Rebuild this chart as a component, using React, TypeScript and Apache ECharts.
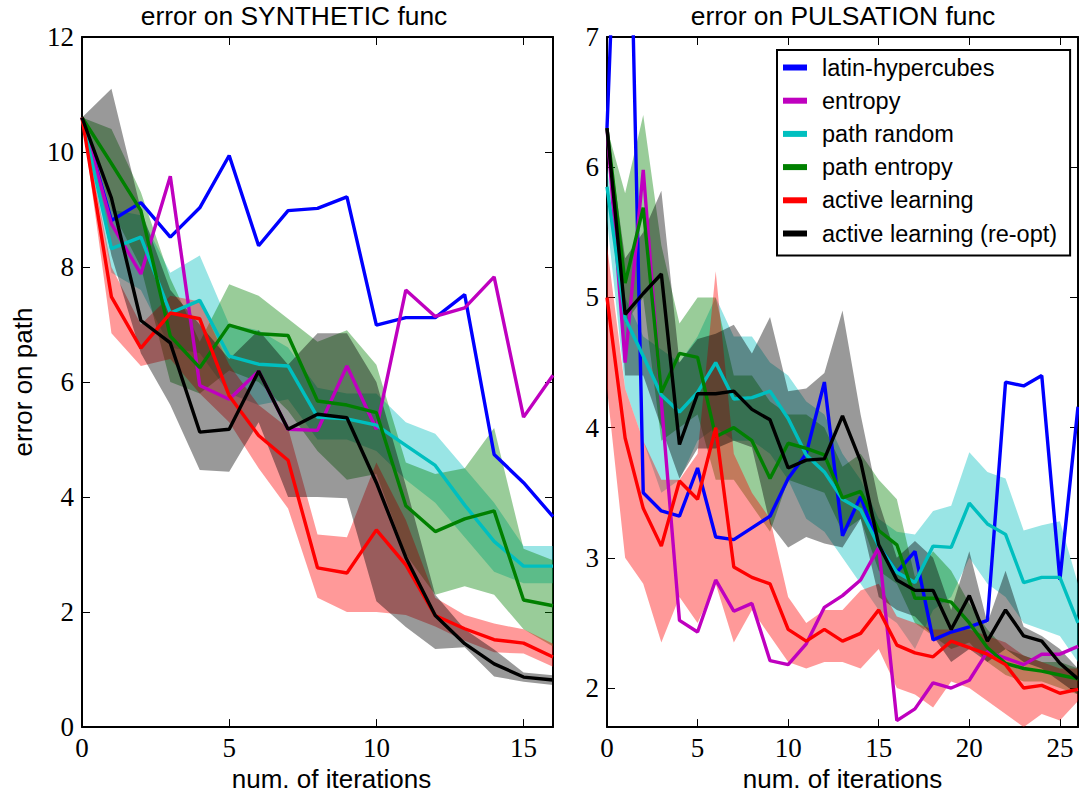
import React, { useEffect, useRef } from "react";
import * as echarts from "echarts";

// ---------- data: SYNTHETIC func (left) ----------
const ITER_SYN = [0, 1, 2, 3, 4, 5, 6, 7, 8, 9, 10, 11, 12, 13, 14, 15, 16];
const synLatin = [10.6, 8.81, 9.12, 8.52, 9.03, 9.94, 8.37, 8.98, 9.02, 9.22, 6.99, 7.12, 7.12, 7.52, 4.74, 4.25, 3.66];
const synEntropy = [10.6, 8.75, 7.88, 9.58, 5.94, 5.7, 6.19, 5.18, 5.16, 6.28, 5.18, 7.6, 7.14, 7.29, 7.83, 5.39, 6.12];
const synPathRandom = [10.6, 8.32, 8.52, 7.2, 7.42, 6.45, 6.31, 6.28, 5.39, 5.36, 5.25, 4.9, 4.55, 3.86, 3.23, 2.8, 2.8];
const synPathEntropy = [10.6, 9.8, 8.98, 6.8, 6.25, 6.99, 6.84, 6.81, 5.67, 5.6, 5.47, 3.85, 3.4, 3.62, 3.76, 2.21, 2.11];
const synActive = [10.6, 7.48, 6.59, 7.2, 7.1, 5.76, 5.07, 4.64, 2.77, 2.68, 3.43, 2.82, 1.94, 1.71, 1.52, 1.46, 1.22];
const synReopt = [10.6, 9.2, 7.07, 6.68, 5.13, 5.18, 6.19, 5.18, 5.44, 5.38, 4.25, 2.95, 1.94, 1.45, 1.1, 0.87, 0.82];

const synPathRandomLo = [10.6, 7.9, 7.6, 6.6, 6.5, 5.8, 5.6, 5.7, 5.0, 5.0, 4.8, 4.3, 3.9, 3.3, 2.7, 2.5, 2.5];
const synPathRandomHi = [10.6, 9.0, 8.9, 7.9, 8.2, 7.0, 6.9, 6.6, 5.9, 5.8, 5.8, 5.3, 5.1, 4.5, 3.9, 3.15, 3.15];
const synPathEntropyLo = [10.6, 9.0, 8.0, 6.0, 5.8, 6.2, 6.0, 5.5, 4.8, 4.3, 4.4, 3.0, 2.3, 2.45, 2.3, 1.7, 1.4];
const synPathEntropyHi = [10.6, 10.4, 9.3, 7.8, 6.7, 7.7, 7.5, 7.1, 6.7, 6.9, 6.3, 4.6, 4.4, 4.5, 5.2, 3.1, 2.9];
const synActiveLo = [10.6, 6.85, 6.28, 6.4, 5.8, 5.3, 4.5, 3.8, 2.25, 2.0, 2.0, 1.95, 1.75, 1.5, 1.3, 1.28, 1.05];
const synActiveHi = [10.6, 8.0, 7.0, 7.5, 7.4, 6.3, 5.6, 5.2, 3.35, 3.3, 4.6, 3.6, 2.25, 1.95, 1.8, 1.7, 1.45];
const synReoptLo = [10.6, 8.2, 6.5, 5.6, 4.47, 4.44, 5.3, 4.0, 4.0, 3.98, 2.19, 1.74, 1.36, 1.39, 0.88, 0.79, 0.73];
const synReoptHi = [10.6, 11.1, 9.0, 7.6, 7.0, 6.4, 6.9, 6.3, 6.85, 6.85, 6.0, 4.2, 2.3, 1.7, 1.35, 0.95, 0.9];

// ---------- data: PULSATION func (right) ----------
const ITER_PUL = [0, 1, 2, 3, 4, 5, 6, 7, 8, 9, 10, 11, 12, 13, 14, 15, 16, 17, 18, 19, 20, 21, 22, 23, 24, 25, 26];
const pulLatin = [6.3, 9.9, 3.5, 3.36, 3.32, 3.69, 3.16, 3.14, 3.23, 3.32, 3.61, 3.8, 4.35, 3.17, 3.47, 3.09, 2.89, 3.05, 2.37, 2.43, 2.47, 2.52, 4.35, 4.32, 4.4, 2.83, 4.16];
const pulEntropy = [6.3, 4.5, 5.98, 4.2, 2.52, 2.43, 2.83, 2.59, 2.65, 2.21, 2.18, 2.34, 2.62, 2.71, 2.83, 3.08, 1.75, 1.84, 2.04, 2.0, 2.06, 2.28, 2.23, 2.18, 2.26, 2.26, 2.32];
const pulPathRandom = [5.85, 4.84, 4.55, 4.25, 4.12, 4.27, 4.5, 4.22, 4.23, 4.28, 4.07, 3.79, 3.66, 3.45, 3.37, 3.09, 2.89, 2.81, 3.09, 3.08, 3.42, 3.26, 3.18, 2.81, 2.85, 2.85, 2.5];
const pulPathEntropy = [6.3, 5.11, 5.69, 4.27, 4.57, 4.54, 3.93, 4.0, 3.9, 3.61, 3.88, 3.84, 3.79, 3.46, 3.51, 3.21, 3.1, 2.69, 2.69, 2.66, 2.5, 2.31, 2.19, 2.15, 2.13, 2.1, 2.07];
const pulActive = [5.0, 3.92, 3.38, 3.09, 3.59, 3.45, 4.0, 2.93, 2.85, 2.8, 2.45, 2.36, 2.45, 2.36, 2.42, 2.6, 2.33, 2.27, 2.24, 2.36, 2.31, 2.26, 2.18, 2.0, 2.02, 1.96, 1.99];
const pulReopt = [6.3, 4.87, 5.03, 5.18, 3.87, 4.26, 4.26, 4.28, 4.14, 4.06, 3.69, 3.75, 3.76, 4.09, 3.74, 3.1, 2.83, 2.75, 2.75, 2.45, 2.71, 2.36, 2.6, 2.4, 2.36, 2.19, 2.07];

const pulPathRandomLo = [5.6, 4.3, 3.9, 3.5, 3.6, 3.9, 4.0, 3.9, 3.9, 3.8, 3.6, 3.3, 3.2, 3.0, 2.8, 2.6, 2.5, 2.3, 2.6, 2.7, 3.0, 2.8, 2.7, 2.5, 2.45, 2.4, 2.2];
const pulPathRandomHi = [6.0, 5.0, 4.7, 4.6, 4.5, 4.7, 5.0, 4.7, 4.7, 4.5, 4.4, 4.2, 4.1, 3.8, 3.6, 3.3, 3.2, 3.18, 3.36, 3.4, 3.81, 3.66, 3.61, 3.21, 3.25, 3.28, 2.8];
const pulPathEntropyLo = [6.3, 4.8, 5.0, 3.9, 4.0, 4.1, 3.6, 3.6, 3.4, 3.2, 3.6, 3.55, 3.5, 3.2, 3.3, 2.9, 2.8, 2.5, 2.4, 2.3, 2.35, 2.2, 2.1, 2.05, 2.05, 2.0, 1.95];
const pulPathEntropyHi = [6.3, 5.8, 6.4, 5.4, 4.8, 5.0, 5.0, 4.4, 4.4, 4.2, 4.1, 4.1, 4.0, 3.7, 3.8, 3.6, 3.45, 2.85, 3.05, 2.9, 2.65, 2.45, 2.3, 2.25, 2.2, 2.2, 2.15];
const pulActiveLo = [4.3, 3.0, 2.8, 2.35, 2.7, 2.5, 2.8, 2.35, 2.6, 2.4, 2.2, 2.15, 2.2, 2.2, 2.15, 2.3, 2.0, 1.95, 1.85, 2.05, 2.0, 1.9, 1.8, 1.7, 1.8, 1.75, 1.9];
const pulActiveHi = [5.4, 4.3, 3.9, 3.6, 3.6, 3.8, 5.2, 3.8, 3.5, 3.3, 2.7, 2.5, 2.6, 2.6, 2.75, 2.8, 2.55, 2.5, 2.45, 2.45, 2.45, 2.4, 2.35, 2.25, 2.2, 2.15, 2.15];
const pulReoptLo = [6.3, 4.4, 4.4, 4.0, 3.61, 3.84, 3.84, 3.9, 3.85, 3.26, 3.08, 3.16, 3.11, 3.08, 3.3, 2.7, 2.6, 2.55, 2.4, 2.2, 2.3, 2.2, 2.3, 2.2, 2.15, 2.05, 1.95];
const pulReoptHi = [6.3, 5.3, 5.5, 5.82, 4.5, 4.68, 4.72, 4.79, 4.57, 4.85, 4.28, 4.3, 4.42, 4.9, 4.1, 3.43, 3.0, 3.13, 3.0, 2.6, 3.05, 2.5, 2.9, 2.47, 2.4, 2.3, 2.15];

// ---------- labels ----------
const NAMES = ["latin-hypercubes", "entropy", "path random", "path entropy", "active learning", "active learning (re-opt)"];
const COLORS = ["#0000ff", "#bf00bf", "#00bfbf", "#008000", "#ff0000", "#000000"];
const SYN_X_TICKS = [0, 5, 10, 15];
const SYN_Y_TICKS = [0, 2, 4, 6, 8, 10, 12];
const PUL_X_TICKS = [0, 5, 10, 15, 20, 25];
const PUL_Y_TICKS = [2, 3, 4, 5, 6, 7];
const TITLES = ["error on SYNTHETIC func", "error on PULSATION func"];
const X_NAME = "num. of iterations";
const Y_NAME = "error on path";

const SANS = "Liberation Sans, Arial, sans-serif";
const SERIF = "Liberation Serif, Times New Roman, serif";

function bandSeries(lo: number[], hi: number[], color: string, gi: number, key: string) {
  return [
    {
      type: "line",
      xAxisIndex: gi * 2,
      yAxisIndex: gi * 2,
      stack: key,
      data: lo,
      symbol: "none",
      lineStyle: { opacity: 0, width: 0 },
      silent: true,
      z: 1,
    },
    {
      type: "line",
      xAxisIndex: gi * 2,
      yAxisIndex: gi * 2,
      stack: key,
      data: hi.map((h, i) => h - lo[i]),
      symbol: "none",
      lineStyle: { opacity: 0, width: 0 },
      areaStyle: { color, opacity: 1 },
      silent: true,
      z: 1,
    },
  ];
}

function lineSeries(ys: number[], idx: number, gi: number) {
  return {
    type: "line",
    name: NAMES[idx],
    xAxisIndex: gi * 2,
    yAxisIndex: gi * 2,
    data: ys,
    symbol: "none",
    showSymbol: false,
    lineStyle: { color: COLORS[idx], width: 3.4 },
    itemStyle: { color: COLORS[idx] },
    silent: true,
    z: 2 + idx * 0.01,
  };
}

function xAxes(gi: number, cats: number[], ticks: number[], namePad: number) {
  const axisLine = { show: true, onZero: false, lineStyle: { color: "#000", width: 2 } };
  const tickStyle = { color: "#000", width: 1 };
  const showIdx = (idx: number) => ticks.indexOf(cats[idx]) >= 0;
  return [
    {
      type: "category",
      gridIndex: gi,
      data: cats.map(String),
      boundaryGap: false,
      position: "bottom",
      splitLine: { show: false },
      axisLine,
      axisTick: { show: true, inside: true, length: 8, interval: (idx: number) => showIdx(idx), lineStyle: tickStyle },
      axisLabel: {
        show: true,
        interval: (idx: number) => showIdx(idx),
        margin: 7,
        fontFamily: SERIF,
        fontSize: 27,
        color: "#000",
      },
      name: X_NAME,
      nameLocation: "middle",
      nameGap: 34,
      nameTextStyle: { fontFamily: SANS, fontSize: 26, color: "#000", padding: [0, 0, 0, namePad] },
    },
    {
      type: "value",
      gridIndex: gi,
      min: cats[0],
      max: cats[cats.length - 1],
      position: "top",
      splitLine: { show: false },
      axisLine,
      axisTick: { show: true, inside: true, length: 8, customValues: ticks, lineStyle: tickStyle },
      axisLabel: { show: false },
    },
  ];
}

function yAxes(gi: number, min: number, max: number, ticks: number[], withName: boolean) {
  const common = {
    type: "value",
    gridIndex: gi,
    min,
    max,
    splitLine: { show: false },
    axisLine: { show: true, onZero: false, lineStyle: { color: "#000", width: 2 } },
    axisTick: { show: true, inside: true, length: 8, customValues: ticks, lineStyle: { color: "#000", width: 1 } },
  };
  const main: any = {
    ...common,
    position: "left",
    axisLabel: { show: true, customValues: ticks, margin: 8, fontFamily: SERIF, fontSize: 27, color: "#000" },
  };
  if (withName) {
    main.name = Y_NAME;
    main.nameLocation = "middle";
    main.nameGap = 46;
    main.nameRotate = 90;
    main.nameTextStyle = { fontFamily: SANS, fontSize: 26, color: "#000" };
  }
  return [main, { ...common, position: "right", axisLabel: { show: false } }];
}

export default function App() {
  const ref = useRef<HTMLDivElement>(null);
  useEffect(() => {
    if (!ref.current) return;
    const chart = echarts.init(ref.current, null, { renderer: "svg" });
    const cCyan = "rgba(0,191,191,0.4)";
    const cGreen = "rgba(0,128,0,0.4)";
    const cRed = "rgba(255,0,0,0.4)";
    const cGray = "rgba(0,0,0,0.4)";
    const series: any[] = [
      ...bandSeries(synPathRandomLo, synPathRandomHi, cCyan, 0, "s_pr"),
      ...bandSeries(synPathEntropyLo, synPathEntropyHi, cGreen, 0, "s_pe"),
      ...bandSeries(synActiveLo, synActiveHi, cRed, 0, "s_al"),
      ...bandSeries(synReoptLo, synReoptHi, cGray, 0, "s_ro"),
      lineSeries(synLatin, 0, 0),
      lineSeries(synEntropy, 1, 0),
      lineSeries(synPathRandom, 2, 0),
      lineSeries(synPathEntropy, 3, 0),
      lineSeries(synActive, 4, 0),
      lineSeries(synReopt, 5, 0),
      ...bandSeries(pulPathRandomLo, pulPathRandomHi, cCyan, 1, "p_pr"),
      ...bandSeries(pulPathEntropyLo, pulPathEntropyHi, cGreen, 1, "p_pe"),
      ...bandSeries(pulActiveLo, pulActiveHi, cRed, 1, "p_al"),
      ...bandSeries(pulReoptLo, pulReoptHi, cGray, 1, "p_ro"),
      lineSeries(pulLatin, 0, 1),
      lineSeries(pulEntropy, 1, 1),
      lineSeries(pulPathRandom, 2, 1),
      lineSeries(pulPathEntropy, 3, 1),
      lineSeries(pulActive, 4, 1),
      lineSeries(pulReopt, 5, 1),
    ];
    chart.setOption({
      animation: false,
      backgroundColor: "#fff",
      title: [
        {
          text: TITLES[0],
          left: 294,
          top: 3,
          textAlign: "center",
          padding: 0,
          textStyle: { fontFamily: SANS, fontSize: 26.4, fontWeight: "normal", color: "#000" },
        },
        {
          text: TITLES[1],
          left: 843,
          top: 3,
          textAlign: "center",
          padding: 0,
          textStyle: { fontFamily: SANS, fontSize: 26.4, fontWeight: "normal", color: "#000" },
        },
      ],
      legend: {
        data: NAMES,
        orient: "vertical",
        left: 777,
        top: 50,
        icon: "rect",
        itemWidth: 24,
        itemHeight: 6,
        itemGap: 9.2,
        padding: [5.5, 13, 10, 6],
        borderColor: "#000",
        borderWidth: 2,
        borderRadius: 0,
        backgroundColor: "#fff",
        selectedMode: false,
        textStyle: { fontFamily: SANS, fontSize: 23.5, color: "#000", padding: [0, 0, 0, 10] },
        z: 10,
      },
      grid: [
        { left: 82, top: 37, width: 471, height: 697, containLabel: false },
        { left: 607, top: 37, width: 471, height: 697, containLabel: false },
      ],
      xAxis: [...xAxes(0, ITER_SYN, SYN_X_TICKS, 28), ...xAxes(1, ITER_PUL, PUL_X_TICKS, 0)],
      yAxis: [...yAxes(0, 0, 12, SYN_Y_TICKS, true), ...yAxes(1, 1.7, 7, PUL_Y_TICKS, false)],
      series,
    });
    return () => chart.dispose();
  }, []);
  return (
    <div
      ref={ref}
      style={{ width: 1079, height: 797, position: "absolute", left: 0, top: 0, background: "#fff" }}
    />
  );
}
